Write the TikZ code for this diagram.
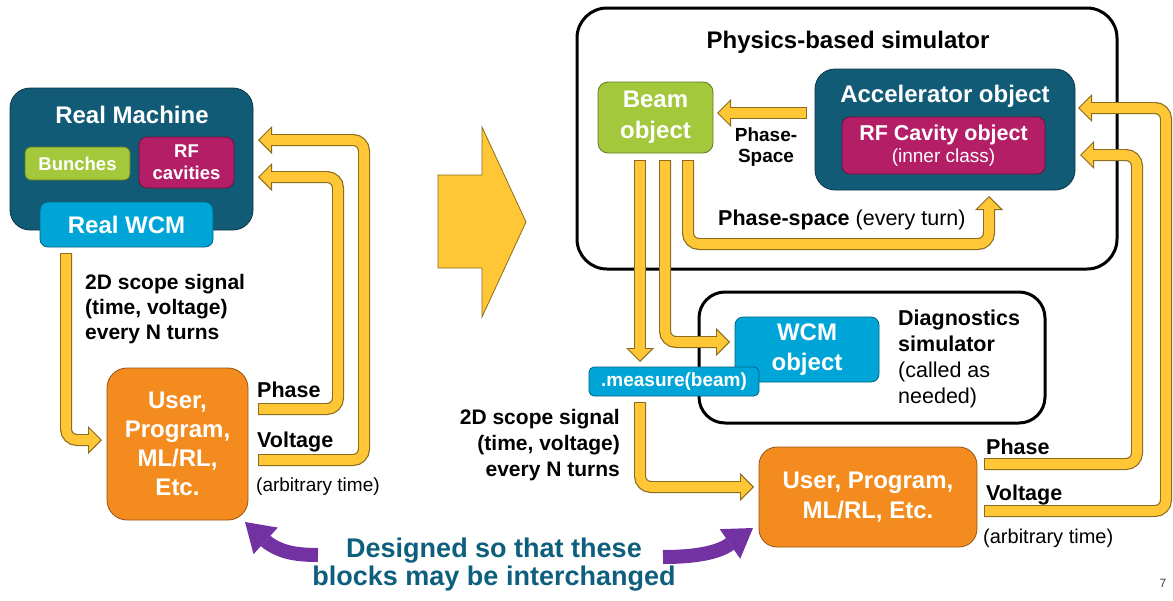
\documentclass[tikz,border=0pt]{standalone}
\usepackage{fontspec}
\setmainfont{Liberation Sans}
\usetikzlibrary{arrows.meta}
\definecolor{cTeal}{HTML}{115B77}
\definecolor{cGreen}{HTML}{A3C83B}
\definecolor{cMag}{HTML}{B31E67}
\definecolor{cCyan}{HTML}{00A5D8}
\definecolor{cOrange}{HTML}{F48B1F}
\definecolor{cYel}{HTML}{FFC735}
\definecolor{cYb}{HTML}{8C6D1F}
\definecolor{cPurp}{HTML}{7232A1}
\definecolor{cText}{HTML}{0E5F7D}
\newcommand\fsz[2]{\fontsize{#1}{#2}\selectfont}
\newcommand\yarr[1]{\draw[yo] #1; \draw[yi] #1;}
\begin{document}
\begin{tikzpicture}[x=1pt,y=-1pt,
  bx/.style={draw=#1!60!black, fill=#1, line width=0.8pt, inner sep=0pt},
  wt/.style={text=white, font=\bfseries\fsz{24}{30}, align=center, inner sep=0pt},
  bt/.style={text=black, inner sep=0pt},
  frame/.style={draw=black, line width=3pt, inner sep=0pt},
  yo/.style={draw=cYb, line width=12pt, rounded corners=11pt, -{Triangle[width=28pt,length=14pt,line width=0pt]}},
  yi/.style={draw=cYel, line width=9.6pt, rounded corners=11pt, shorten >=1.7pt, shorten <=1.2pt, -{Triangle[width=22.2pt,length=11.1pt,line width=0pt]}},
  pa/.style={draw=cPurp, line width=14pt, -{Triangle[width=36pt,length=28pt,line width=0pt]}},
]
\fill[white] (0,0) rectangle (1173,600);
\useasboundingbox (0,0) rectangle (1173,600);

% ---------------- left side ----------------
\node[bx=cTeal, rounded corners=20pt, minimum width=243pt, minimum height=142pt] (rm) at (131.5,159) {};
\node[wt] (rmlabel) at (132,115) {Real Machine};
\node[bx=cGreen, rounded corners=6pt, minimum width=105pt, minimum height=33pt, wt, font=\bfseries\fsz{18.5}{22}] (bunch) at (77.5,163.5) {Bunches};
\node[bx=cMag, rounded corners=8pt, minimum width=95pt, minimum height=51pt, wt, font=\bfseries\fsz{18.5}{22}] (rfcav) at (186.5,162.5) {RF\\cavities};
\node[bx=cCyan, rounded corners=8pt, minimum width=173pt, minimum height=45pt, wt] (rwcm) at (126.5,224.5) {Real WCM};

\node[bx=cOrange, rounded corners=20pt, minimum width=141pt, minimum height=152pt, wt, font=\bfseries\fsz{24}{29}] (user1) at (177.5,444) {User,\\Program,\\ML/RL,\\Etc.};

\node[bt, anchor=west, align=left, font=\bfseries\fsz{21}{25}] (scope1) at (85,309) {2D scope signal\\(time, voltage)\\every N turns};
\node[bt, anchor=west, font=\bfseries\fsz{21.5}{26}] (phase1) at (257,390) {Phase};
\node[bt, anchor=west, font=\bfseries\fsz{21.5}{26}] (volt1) at (257,442) {Voltage};
\node[bt, anchor=west, font=\fsz{19}{23}] (arb1) at (256,487) {(arbitrary time)};

\coordinate (s1a) at (66,253);   \coordinate (s1b) at (102,440);
\coordinate (p1a) at (258,409);  \coordinate (p1m) at (338,177); \coordinate (p1b) at (258,177);
\coordinate (v1a) at (258,460);  \coordinate (v1m) at (364,140); \coordinate (v1b) at (258,140);
\yarr{(s1a) |- (s1b)}
\yarr{(p1a) -| (p1m) -- (p1b)}
\yarr{(v1a) -| (v1m) -- (v1b)}

% big arrow
\draw[draw=cYb, fill=cYel, line width=0.8pt] (438,175) -- (482,175) -- (482,127) -- (526,222) -- (482,317) -- (482,268) -- (438,268) -- cycle;

% ---------------- right side ----------------
\node[frame, rounded corners=30pt, minimum width=540pt, minimum height=261pt] (sim) at (847,138.5) {};
\node[bt, font=\bfseries\fsz{24}{30}] (simt) at (848,42) {Physics-based simulator};
\node[frame, rounded corners=26pt, minimum width=346pt, minimum height=131pt] (diag) at (872,357.5) {};

\node[bx=cGreen, rounded corners=10pt, minimum width=115pt, minimum height=71pt, wt, font=\bfseries\fsz{24}{31}] (beam) at (655.5,117.5) {Beam\\object};
\node[bx=cTeal, rounded corners=20pt, minimum width=260pt, minimum height=121pt] (accel) at (945,129.5) {};
\node[wt] (accelt) at (945,96) {Accelerator object};
\node[bx=cMag, rounded corners=8pt, minimum width=203pt, minimum height=57pt] (rfobj) at (943.5,145.5) {};
\node[wt, font=\bfseries\fsz{21.5}{26}] (rfobjt) at (943.5,135) {RF Cavity object};
\node[wt, font=\fsz{19}{23}] (rfobjs) at (943.5,158) {(inner class)};

\node[bt, align=center, font=\bfseries\fsz{19}{21}] (phsp) at (766,147) {Phase-\\Space};
\node[bt, anchor=west, font=\fsz{21.5}{26}] (pstxt) at (718,220) {\textbf{Phase-space} (every turn)};

\node[bx=cCyan, rounded corners=8pt, minimum width=144pt, minimum height=65pt, wt, font=\bfseries\fsz{24}{30}] (wcmobj) at (807,349.5) {WCM\\object};
\node[bx=cCyan, rounded corners=5pt, minimum width=170pt, minimum height=29pt, wt, font=\bfseries\fsz{19}{23}] (meas) at (674,381.5) {.measure(beam)};
\node[bt, anchor=west, align=left, font=\fsz{21.5}{26}] (diagt) at (898,358.5) {\textbf{Diagnostics}\\\textbf{simulator}\\(called as\\needed)};

\node[bt, anchor=east, align=right, font=\bfseries\fsz{21}{26}] (scope2) at (620,445) {2D scope signal\\(time, voltage)\\every N turns};
\node[bx=cOrange, rounded corners=18pt, minimum width=218pt, minimum height=100pt, wt, font=\bfseries\fsz{24}{30}] (user2) at (868,497) {User, Program,\\ML/RL, Etc.};
\node[bt, anchor=west, font=\bfseries\fsz{21.5}{26}] (phase2) at (986,447) {Phase};
\node[bt, anchor=west, font=\bfseries\fsz{21.5}{26}] (volt2) at (986,495) {Voltage};
\node[bt, anchor=west, font=\fsz{20}{24}] (arb2) at (983,538) {(arbitrary time)};

\coordinate (ab1) at (807,113);  \coordinate (ab2) at (717,113);
\coordinate (ps1) at (688,160);  \coordinate (ps2) at (989,244); \coordinate (ps3) at (989,196);
\coordinate (b1a) at (640,160);  \coordinate (b1b) at (640,362);
\coordinate (b2a) at (665,160);  \coordinate (b2b) at (730,342);
\coordinate (s2a) at (640,402);  \coordinate (s2b) at (754,487);
\coordinate (p2a) at (984,464);  \coordinate (p2m) at (1137,155); \coordinate (p2b) at (1080,155);
\coordinate (v2a) at (984,511);  \coordinate (v2m) at (1166,108); \coordinate (v2b) at (1078,108);
\yarr{(ab1) -- (ab2)}
\yarr{(ps1) |- (ps2) -- (ps3)}
\yarr{(b1a) -- (b1b)}
\yarr{(b2a) |- (b2b)}
\yarr{(s2a) |- (s2b)}
\yarr{(p2a) -| (p2m) -- (p2b)}
\yarr{(v2a) -| (v2m) -- (v2b)}

% ---------------- bottom ----------------
\node[text=cText, align=center, font=\bfseries\fsz{27}{28}, inner sep=0pt] (designed) at (494,565) {Designed so that these\\blocks may be interchanged};
\coordinate (pl1) at (318,555); \coordinate (pl2) at (268,543); \coordinate (pl3) at (245,522);
\draw[pa] (pl1) .. controls (292,555) and (280,551) .. (pl2) -- (pl3);
\coordinate (pr1) at (663,557); \coordinate (pr2) at (727,546); \coordinate (pr3) at (753,528);
\draw[pa] (pr1) .. controls (690,557) and (713,554) .. (pr2) -- (pr3);

\node[text=black!75, font=\fsz{12}{14}, inner sep=0pt] (pg) at (1163,583) {7};
\end{tikzpicture}
\end{document}
